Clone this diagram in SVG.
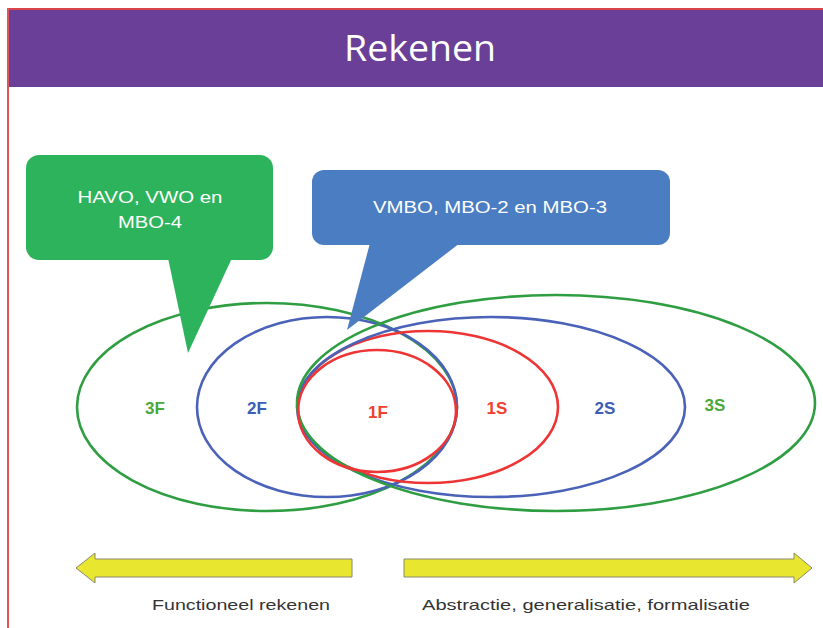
<svg xmlns="http://www.w3.org/2000/svg" width="823" height="628" viewBox="0 0 823 628">
<style>
.ell{fill:none;stroke-width:2.6}
.g{stroke:#2F9E42}
.b{stroke:#4A62B8}
.r{stroke:#EE3535}
.lbl{font-family:"Liberation Sans",Arial,sans-serif;font-weight:bold;font-size:17px;text-anchor:middle}
.ct{font-family:"Liberation Sans",Arial,sans-serif;font-size:16px;fill:#ffffff;text-anchor:middle}
.cap{font-family:"Liberation Sans",Arial,sans-serif;font-size:15px;fill:#333333;text-anchor:middle}
.arrow{fill:#E8E62E;stroke:#8A8A70;stroke-width:1}
</style>
<rect x="0" y="0" width="823" height="628" fill="#ffffff"/>
<g id="header">
<rect x="8" y="8" width="815" height="2" fill="#D9454B"/>
<rect x="7" y="8" width="2" height="620" fill="#E0555A"/>
<rect x="9" y="10" width="814" height="77" fill="#6A3F98"/>
<text x="420" y="61" font-family="'Open Sans','Liberation Sans',sans-serif" font-size="37" fill="#ffffff" text-anchor="middle" textLength="152" lengthAdjust="spacingAndGlyphs">Rekenen</text>
</g>
<g id="ellipses">
<g id="e3F"><ellipse class="ell g" cx="267" cy="407" rx="190" ry="104"/></g>
<g id="e2F"><ellipse class="ell b" cx="327" cy="407" rx="130" ry="90"/></g>
<g id="e1S"><ellipse class="ell r" cx="428" cy="407" rx="130" ry="76"/></g>
<g id="e2S"><ellipse class="ell b" cx="491" cy="407" rx="194" ry="90"/></g>
<g id="e3S"><ellipse class="ell g" cx="556" cy="403" rx="259" ry="108"/></g>
<g id="e1F"><ellipse class="ell r" cx="377" cy="411" rx="79" ry="61"/></g>
</g>
<g id="labels">
<text class="lbl" x="155" y="414" fill="#4BA83A">3F</text>
<text class="lbl" x="257" y="414" fill="#3A5DB5">2F</text>
<text class="lbl" x="378" y="418" fill="#F0402E">1F</text>
<text class="lbl" x="497" y="414" fill="#F0402E">1S</text>
<text class="lbl" x="605" y="414" fill="#3A5DB5">2S</text>
<text class="lbl" x="715" y="411" fill="#4BA83A">3S</text>
</g>
<g id="callout-green">
<rect x="26" y="155" width="247" height="105" rx="13" fill="#2DB35B"/>
<polygon points="168,258 232,258 188,353" fill="#2DB35B"/>
<text class="ct" x="150" y="203" textLength="145" lengthAdjust="spacingAndGlyphs">HAVO, VWO en</text>
<text class="ct" x="150" y="228" textLength="64" lengthAdjust="spacingAndGlyphs">MBO-4</text>
</g>
<g id="callout-blue">
<rect x="312" y="170" width="358" height="75" rx="12" fill="#4A7DC1"/>
<polygon points="370,243 460,243 347,330" fill="#4A7DC1"/>
<text class="ct" x="490" y="213" textLength="234" lengthAdjust="spacingAndGlyphs">VMBO, MBO-2 en MBO-3</text>
</g>
<g id="arrows">
<polygon class="arrow" points="76,568 95,553 95,559 352,559 352,577 95,577 95,583"/>
<polygon class="arrow" points="812,568 794,553 794,559 404,559 404,577 794,577 794,583"/>
<text class="cap" x="241" y="610" textLength="178" lengthAdjust="spacingAndGlyphs">Functioneel rekenen</text>
<text class="cap" x="586" y="610" textLength="328" lengthAdjust="spacingAndGlyphs">Abstractie, generalisatie, formalisatie</text>
</g>
</svg>
